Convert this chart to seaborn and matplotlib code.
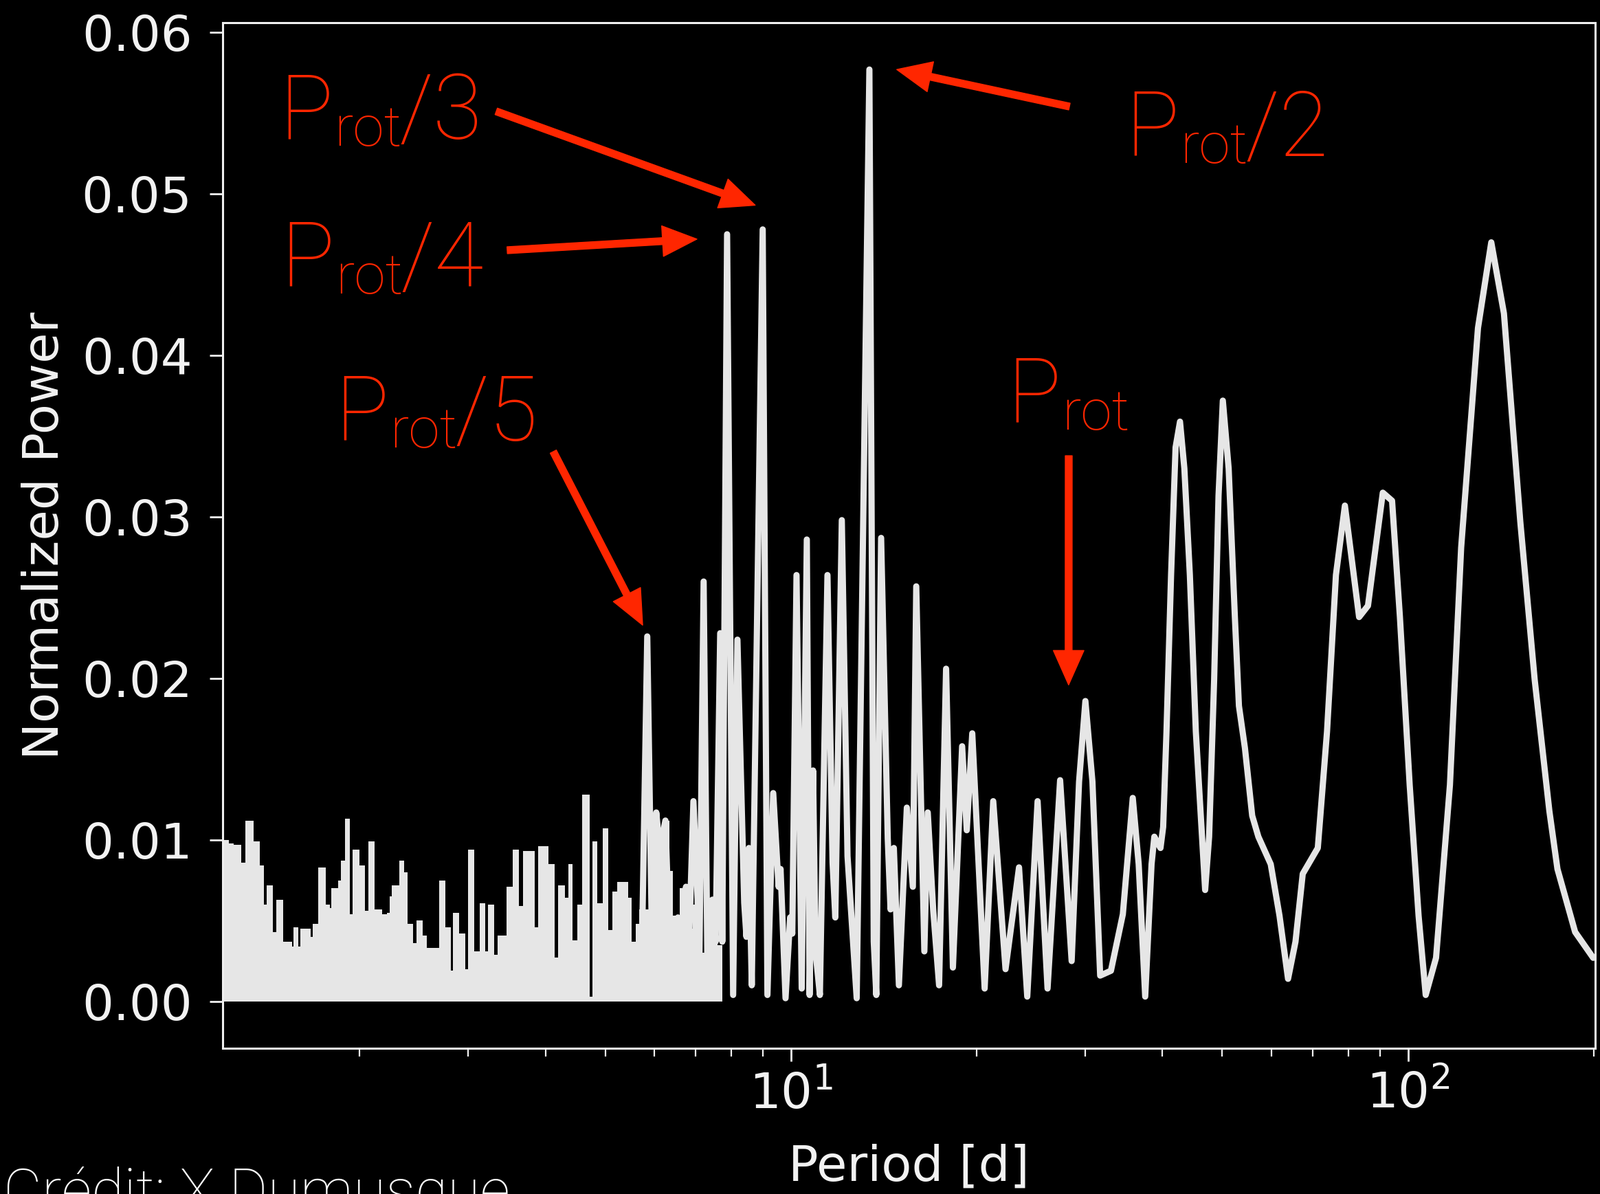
import pandas as pd
import seaborn as sns
import matplotlib.pyplot as plt
from matplotlib.ticker import FormatStrFormatter

# colours
RED = '#ff2600'
LINE = '#e6e6e6'
W, H = 2328, 1737

# dense short-period part: upper envelope of the periodogram (step outline)
env_period = [1.200, 1.203, 1.229, 1.251, 1.287, 1.306, 1.347, 1.378, 1.399, 1.413,
              1.448, 1.465, 1.505, 1.554, 1.563, 1.590, 1.605, 1.665, 1.680, 1.713,
              1.763, 1.789, 1.800, 1.846, 1.867, 1.893, 1.928, 1.950, 2.000, 2.041,
              2.065, 2.117, 2.178, 2.216, 2.236, 2.255, 2.320, 2.360, 2.393, 2.443,
              2.471, 2.528, 2.567, 2.693, 2.755, 2.810, 2.836, 2.901, 2.968, 2.995,
              3.071, 3.132, 3.196, 3.233, 3.308, 3.346, 3.463, 3.544, 3.627, 3.677,
              3.840, 3.893, 4.043, 4.136, 4.199, 4.305, 4.355, 4.430, 4.506, 4.584,
              4.718, 4.762, 4.856, 4.951, 5.054, 5.140, 5.230, 5.443, 5.524, 5.601,
              5.678, 5.930, 6.000, 6.102, 6.187, 6.353, 6.442, 6.612, 6.789, 6.850,
              6.930, 7.050, 7.120, 7.300, 7.450, 7.600, 7.750]
env_power = [0.0190, 0.0100, 0.0098, 0.0097, 0.0086, 0.0112, 0.0099, 0.0084, 0.0060, 0.0072,
             0.0043, 0.0063, 0.0037, 0.0034, 0.0046, 0.0034, 0.0045, 0.0040, 0.0048, 0.0083,
             0.0060, 0.0058, 0.0070, 0.0075, 0.0087, 0.0113, 0.0054, 0.0094, 0.0084, 0.0056,
             0.0099, 0.0057, 0.0054, 0.0055, 0.0065, 0.0072, 0.0087, 0.0080, 0.0048, 0.0036,
             0.0050, 0.0041, 0.0033, 0.0075, 0.0046, 0.0019, 0.0055, 0.0042, 0.0020, 0.0094,
             0.0031, 0.0061, 0.0031, 0.0060, 0.0029, 0.0041, 0.0071, 0.0094, 0.0059, 0.0093,
             0.0046, 0.0096, 0.0085, 0.0027, 0.0072, 0.0064, 0.0085, 0.0038, 0.0060, 0.0128,
             0.0003, 0.0099, 0.0061, 0.0107, 0.0044, 0.0068, 0.0074, 0.0064, 0.0037, 0.0048,
             0.0057, 0.0060, 0.0117, 0.0094, 0.0112, 0.0081, 0.0053, 0.0070, 0.0070, 0.0045,
             0.0060, 0.0063, 0.0030, 0.0040, 0.0060, 0.0035, 0.0025]

# resolved part: peaks and troughs of the curve
line_period = [5.75, 5.85, 5.97, 6.05, 6.13, 6.26, 6.40, 6.56, 6.67, 6.76,
               6.82, 6.95, 7.06, 7.10, 7.22, 7.33, 7.46, 7.55, 7.68, 7.74,
               7.88, 8.06, 8.19, 8.40, 8.47, 8.55, 8.64, 9.00, 9.16, 9.36,
               9.55, 9.62, 9.80, 9.97, 10.05, 10.21, 10.41, 10.61, 10.72, 10.86,
               10.96, 11.14, 11.46, 11.68, 11.80, 12.09, 12.35, 12.78, 13.40, 13.62,
               13.75, 14.00, 14.35, 14.50, 14.68, 14.96, 15.41, 15.76, 15.96, 16.45,
               16.66, 17.00, 17.38, 17.84, 18.30, 18.94, 19.27, 19.67, 20.60, 21.27,
               22.27, 23.42, 24.15, 25.10, 26.05, 27.30, 28.50, 29.30, 30.00, 30.80,
               31.70, 33.00, 34.50, 35.80, 36.60, 37.50, 38.40, 38.80, 39.70, 40.10,
               40.60, 41.30, 42.00, 42.70, 43.40, 44.30, 45.30, 46.90, 47.60, 48.50,
               49.30, 50.10, 51.20, 52.40, 53.20, 54.40, 55.90, 57.20, 59.90, 61.90,
               63.90, 65.70, 67.50, 71.40, 73.90, 76.40, 79.00, 83.30, 86.10, 91.00,
               94.20, 97.00, 100.6, 104.0, 106.8, 111.0, 116.9, 121.9, 129.8, 136.4,
               143.0, 152.0, 160.4, 169.4, 174.6, 186.5, 199.5]
line_power = [0.0057, 0.0226, 0.0008, 0.0117, 0.0094, 0.0112, 0.0002, 0.0052, 0.0008, 0.0071,
              0.0023, 0.0124, 0.0063, 0.0011, 0.0260, 0.0004, 0.0063, 0.0037, 0.0228, 0.0037,
              0.0475, 0.0004, 0.0224, 0.0061, 0.0040, 0.0095, 0.0010, 0.0478, 0.0004, 0.0129,
              0.0071, 0.0082, 0.0002, 0.0052, 0.0042, 0.0264, 0.0008, 0.0286, 0.0004, 0.0143,
              0.0031, 0.0004, 0.0264, 0.0086, 0.0052, 0.0298, 0.0090, 0.0002, 0.0577, 0.0037,
              0.0004, 0.0287, 0.0101, 0.0057, 0.0095, 0.0010, 0.0120, 0.0071, 0.0257, 0.0031,
              0.0117, 0.0057, 0.0010, 0.0206, 0.0021, 0.0158, 0.0106, 0.0166, 0.0008, 0.0124,
              0.0020, 0.0083, 0.0003, 0.0124, 0.0008, 0.0137, 0.0025, 0.0136, 0.0186, 0.0136,
              0.0016, 0.0019, 0.0054, 0.0126, 0.0085, 0.0003, 0.0085, 0.0102, 0.0095, 0.0108,
              0.0167, 0.0264, 0.0343, 0.0359, 0.0330, 0.0264, 0.0167, 0.0069, 0.0102, 0.0199,
              0.0313, 0.0372, 0.0330, 0.0238, 0.0183, 0.0157, 0.0115, 0.0102, 0.0085, 0.0053,
              0.0014, 0.0037, 0.0079, 0.0095, 0.0167, 0.0264, 0.0307, 0.0238, 0.0245, 0.0315,
              0.0310, 0.0238, 0.0134, 0.0053, 0.0004, 0.0027, 0.0134, 0.0281, 0.0417, 0.0470,
              0.0426, 0.0297, 0.0199, 0.0118, 0.0082, 0.0043, 0.0027]

y_ticks = [0.00, 0.01, 0.02, 0.03, 0.04, 0.05, 0.06]

# annotations: label, tip (period, power), arrow tail and text position in pixels
ann_labels = ['/3', '/4', '/5', '/2', '']
ann_tip_period = [8.75, 7.04, 5.75, 14.84, 28.18]
ann_tip_power = [0.0493, 0.0472, 0.0233, 0.0577, 0.0196]

sns.set_theme(style='dark', rc={
    'figure.facecolor': 'black', 'axes.facecolor': 'black',
    'axes.edgecolor': '#f0f0f0', 'axes.linewidth': 2.2,
    'text.color': '#f2f2f2', 'axes.labelcolor': '#f2f2f2',
    'xtick.color': '#f2f2f2', 'ytick.color': '#f2f2f2',
    'xtick.bottom': True, 'ytick.left': True, 'axes.grid': False,
})
plt.rcParams['font.family'] = ['DejaVu Sans']

fig = plt.figure(figsize=(W / 100, H / 100), dpi=100)
ax = fig.add_axes([324 / W, 1 - 1525 / H, 1997 / W, 1492 / H])

ax.fill_between(env_period, 0, env_power, step='post', color=LINE, linewidth=0)
df = pd.DataFrame({'Period [d]': line_period, 'Normalized Power': line_power})
sns.lineplot(data=df, x='Period [d]', y='Normalized Power', ax=ax, color=LINE,
             linewidth=6.5, estimator=None, sort=False,
             solid_joinstyle='round', solid_capstyle='round')

ax.set_xscale('log')
ax.set_xlim(1.2, 201)
ax.set_ylim(-0.0029, 0.0606)
ax.set_yticks(y_ticks)
ax.yaxis.set_major_formatter(FormatStrFormatter('%.2f'))
for s in ax.spines.values():
    s.set_visible(True)
    s.set_color('#f0f0f0')
ax.tick_params(axis='both', which='major', labelsize=52, length=14, width=2)
ax.tick_params(axis='y', pad=18)
ax.tick_params(axis='x', pad=8)
ax.tick_params(axis='x', which='minor', length=8.5, width=1.6, bottom=True)

ax.set_xlabel('Period [d]', fontsize=52)
ax.set_ylabel('Normalized Power', fontsize=52)
ax.xaxis.set_label_coords(0.5, -0.093)
ax.yaxis.set_label_coords(-0.112, 0.5)

# red Keynote-style annotations
LIGHT = dict(family=['Roboto', 'DejaVu Sans'], weight='light', color=RED)
renderer = fig.canvas.get_renderer()


def prot_label(x, y, tail):
    t = fig.text(x / W, 1 - y / H, 'P', fontsize=94, va='baseline', **LIGHT)
    bb = t.get_window_extent(renderer)
    s = fig.text((bb.x1 + 2) / W, 1 - (y + 10) / H, 'rot', fontsize=59, va='baseline', **LIGHT)
    if tail:
        bb = s.get_window_extent(renderer)
        fig.text((bb.x1 - 4) / W, 1 - y / H, tail, fontsize=94, va='baseline', **LIGHT)


def arrow(period, power, tx, ty):
    ax.annotate('', xy=(period, power), xycoords='data',
                xytext=(tx / W, 1 - ty / H), textcoords='figure fraction',
                arrowprops=dict(arrowstyle='simple,head_length=3.6,head_width=3.2,tail_width=0.72',
                                mutation_scale=10, color=RED, shrinkA=0, shrinkB=0),
                annotation_clip=False)


text_pos = [(406, 202), (408, 417), (487, 641), (1637, 227), (1465, 615)]
tail_pos = [(722, 162), (738, 364), (805, 657), (1556, 155), (1555, 663)]
for lab, p, q, (lx, ly), (tx, ty) in zip(ann_labels, ann_tip_period, ann_tip_power, text_pos, tail_pos):
    prot_label(lx, ly, lab)
    arrow(p, q, tx, ty)

fig.text(5 / W, 1 - 1761 / H, 'Crédit: X Dumusque', fontsize=62, va='baseline',
         family=['Roboto', 'DejaVu Sans'], weight='light', color='white')

fig.savefig('out.png', dpi=100, facecolor='black')
